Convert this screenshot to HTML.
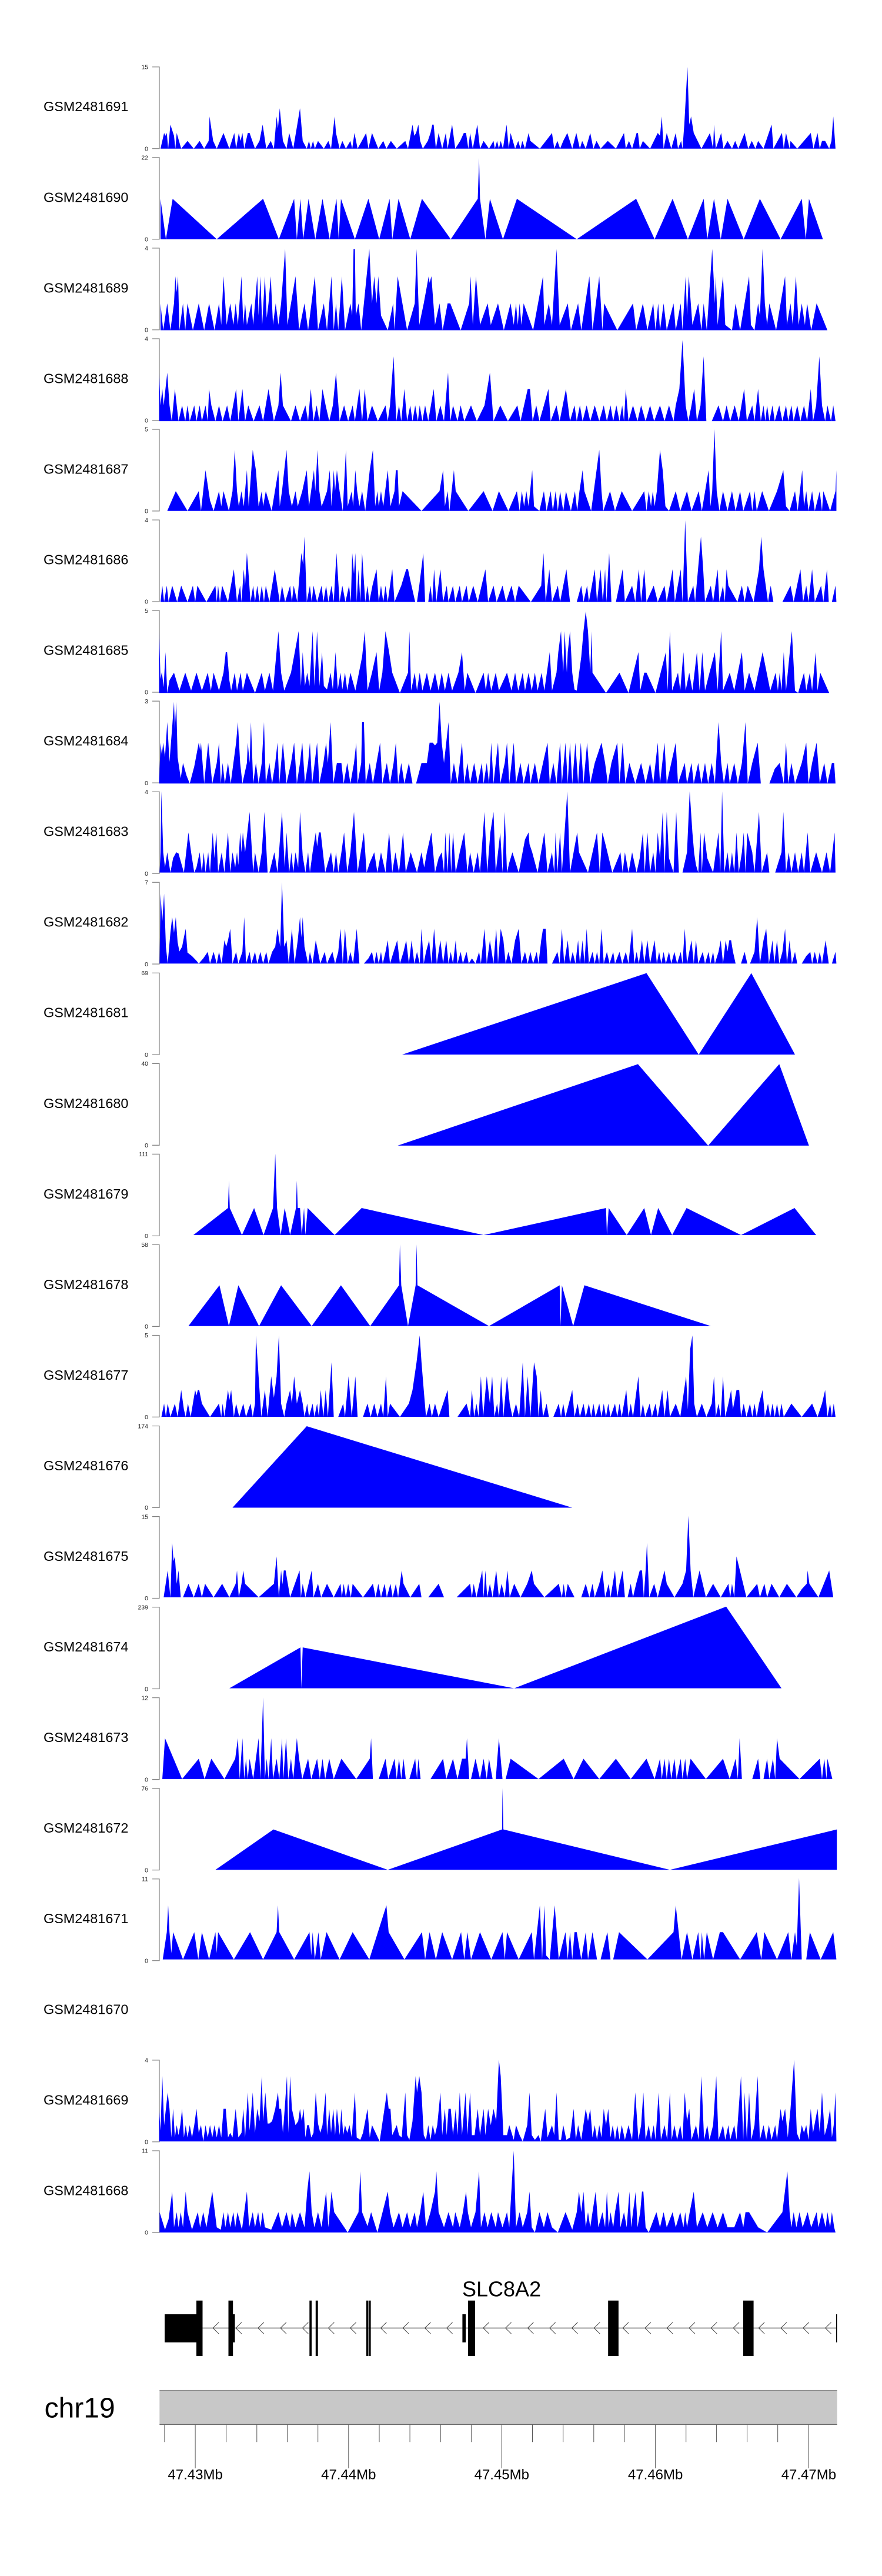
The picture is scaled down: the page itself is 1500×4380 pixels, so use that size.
<!DOCTYPE html>
<html>
<head>
<meta charset="utf-8">
<style>
html,body{margin:0;padding:0;background:#fff;}
svg{display:block;}
text{font-family:"Liberation Sans",Arial,sans-serif;}
.lab{font-size:23.4px;fill:#000;}
.tk{font-size:10.5px;fill:#222;text-anchor:end;}
.ax{stroke:#808080;stroke-width:1.2;fill:none;}
.d path{fill:#0000ff;stroke:none;}
.chev{stroke:#444;stroke-width:1;fill:none;}
</style>
</head>
<body>
<svg width="1500" height="4380" viewBox="0 0 1500 4380" xmlns="http://www.w3.org/2000/svg">
<rect x="0" y="0" width="1500" height="4380" fill="#fff"/>

<!-- Sample labels -->
<text class="lab" x="74" y="189.2">GSM2481691</text>
<text class="lab" x="74" y="343.25">GSM2481690</text>
<text class="lab" x="74" y="497.3">GSM2481689</text>
<text class="lab" x="74" y="651.35">GSM2481688</text>
<text class="lab" x="74" y="805.4">GSM2481687</text>
<text class="lab" x="74" y="959.45">GSM2481686</text>
<text class="lab" x="74" y="1113.5">GSM2481685</text>
<text class="lab" x="74" y="1267.55">GSM2481684</text>
<text class="lab" x="74" y="1421.6">GSM2481683</text>
<text class="lab" x="74" y="1575.65">GSM2481682</text>
<text class="lab" x="74" y="1729.7">GSM2481681</text>
<text class="lab" x="74" y="1883.75">GSM2481680</text>
<text class="lab" x="74" y="2037.8">GSM2481679</text>
<text class="lab" x="74" y="2191.85">GSM2481678</text>
<text class="lab" x="74" y="2345.9">GSM2481677</text>
<text class="lab" x="74" y="2499.95">GSM2481676</text>
<text class="lab" x="74" y="2654.0">GSM2481675</text>
<text class="lab" x="74" y="2808.05">GSM2481674</text>
<text class="lab" x="74" y="2962.1">GSM2481673</text>
<text class="lab" x="74" y="3116.15">GSM2481672</text>
<text class="lab" x="74" y="3270.2">GSM2481671</text>
<text class="lab" x="74" y="3424.25">GSM2481670</text>
<text class="lab" x="74" y="3578.3">GSM2481669</text>
<text class="lab" x="74" y="3732.35">GSM2481668</text>

<!-- Axes -->
<path class="ax" d="M259,113.8H271V252.7H259"/>
<path class="ax" d="M259,267.85H271V406.75H259"/>
<path class="ax" d="M259,421.9H271V560.8H259"/>
<path class="ax" d="M259,575.95H271V714.85H259"/>
<path class="ax" d="M259,730H271V868.9H259"/>
<path class="ax" d="M259,884.05H271V1022.95H259"/>
<path class="ax" d="M259,1038.1H271V1177H259"/>
<path class="ax" d="M259,1192.15H271V1331.05H259"/>
<path class="ax" d="M259,1346.2H271V1485.1H259"/>
<path class="ax" d="M259,1500.25H271V1639.15H259"/>
<path class="ax" d="M259,1654.3H271V1793.2H259"/>
<path class="ax" d="M259,1808.35H271V1947.25H259"/>
<path class="ax" d="M259,1962.4H271V2101.3H259"/>
<path class="ax" d="M259,2116.45H271V2255.35H259"/>
<path class="ax" d="M259,2270.5H271V2409.4H259"/>
<path class="ax" d="M259,2424.55H271V2563.45H259"/>
<path class="ax" d="M259,2578.6H271V2717.5H259"/>
<path class="ax" d="M259,2732.65H271V2871.55H259"/>
<path class="ax" d="M259,2886.7H271V3025.6H259"/>
<path class="ax" d="M259,3040.75H271V3179.65H259"/>
<path class="ax" d="M259,3194.8H271V3333.7H259"/>
<path class="ax" d="M259,3502.9H271V3641.8H259"/>
<path class="ax" d="M259,3656.95H271V3795.85H259"/>

<!-- Tick labels -->
<text class="tk" x="252" y="117.5">15</text><text class="tk" x="252" y="256.4">0</text>
<text class="tk" x="252" y="271.55">22</text><text class="tk" x="252" y="410.45">0</text>
<text class="tk" x="252" y="425.6">4</text><text class="tk" x="252" y="564.5">0</text>
<text class="tk" x="252" y="579.65">4</text><text class="tk" x="252" y="718.55">0</text>
<text class="tk" x="252" y="733.7">5</text><text class="tk" x="252" y="872.6">0</text>
<text class="tk" x="252" y="887.75">4</text><text class="tk" x="252" y="1026.65">0</text>
<text class="tk" x="252" y="1041.8">5</text><text class="tk" x="252" y="1180.7">0</text>
<text class="tk" x="252" y="1195.85">3</text><text class="tk" x="252" y="1334.75">0</text>
<text class="tk" x="252" y="1349.9">4</text><text class="tk" x="252" y="1488.8">0</text>
<text class="tk" x="252" y="1503.95">7</text><text class="tk" x="252" y="1642.85">0</text>
<text class="tk" x="252" y="1658.0">69</text><text class="tk" x="252" y="1796.9">0</text>
<text class="tk" x="252" y="1812.05">40</text><text class="tk" x="252" y="1950.95">0</text>
<text class="tk" x="252" y="1966.1">111</text><text class="tk" x="252" y="2105.0">0</text>
<text class="tk" x="252" y="2120.15">58</text><text class="tk" x="252" y="2259.05">0</text>
<text class="tk" x="252" y="2274.2">5</text><text class="tk" x="252" y="2413.1">0</text>
<text class="tk" x="252" y="2428.25">174</text><text class="tk" x="252" y="2567.15">0</text>
<text class="tk" x="252" y="2582.3">15</text><text class="tk" x="252" y="2721.2">0</text>
<text class="tk" x="252" y="2736.35">239</text><text class="tk" x="252" y="2875.25">0</text>
<text class="tk" x="252" y="2890.4">12</text><text class="tk" x="252" y="3029.3">0</text>
<text class="tk" x="252" y="3044.45">76</text><text class="tk" x="252" y="3183.35">0</text>
<text class="tk" x="252" y="3198.5">11</text><text class="tk" x="252" y="3337.4">0</text>
<text class="tk" x="252" y="3506.6">4</text><text class="tk" x="252" y="3645.5">0</text>
<text class="tk" x="252" y="3660.65">11</text><text class="tk" x="252" y="3799.55">0</text>

<!-- Data group 1 -->
<g class="d" transform="translate(250,100) scale(0.76531,0.39677)">
<path d="M30,385 38,318 41,330 44,318 47,385 52,282 60,330 63,385 66,318 76,385 90,352 104,385 117,352 127,385 137,352 139,247 147,352 155,385 170,318 183,385 194,318 198,385 204,318 208,352 212,318 216,385 224,318 228,318 240,385 250,352 257,282 265,385 275,352 282,385 288,247 291,298 295,212 302,352 310,385 316,318 325,385 340,212 346,352 355,385 360,352 364,385 369,352 373,385 380,352 393,385 403,352 409,385 417,247 420,318 428,385 434,352 442,385 452,352 456,385 461,318 468,385 487,318 492,385 500,318 514,385 525,352 532,385 542,352 555,385 574,352 580,385 590,282 594,330 598,318 603,282 607,352 613,385 624,352 630,318 634,282 637,282 642,385 648,318 656,385 664,318 668,385 678,282 685,385 696,352 704,318 709,318 714,385 718,318 724,385 734,282 740,385 748,352 760,385 770,352 773,385 778,352 782,385 786,352 791,385 799,282 804,385 808,318 818,385 825,352 830,385 834,352 840,385 848,318 852,352 873,385 900,318 905,385 912,352 918,385 925,352 934,318 945,385 954,318 962,385 967,352 975,385 985,318 992,385 999,352 1008,385 1024,352 1042,385 1060,318 1064,385 1071,352 1078,385 1088,318 1091,318 1095,385 1102,352 1118,385 1135,318 1140,330 1144,247 1148,385 1155,318 1165,385 1175,318 1180,385 1187,352 1190,385 1194,282 1201,35 1205,282 1209,247 1215,318 1232,385 1251,318 1258,385 1260,282 1264,385 1276,318 1281,385 1290,352 1300,385 1307,352 1314,385 1328,318 1336,385 1344,352 1352,385 1358,352 1370,385 1388,282 1392,385 1411,318 1415,385 1420,318 1428,385 1430,352 1445,385 1475,318 1481,385 1490,318 1495,385 1500,352 1507,352 1516,385 1521,352 1525,247 1530,385Z"/>
<path d="M30,773 30,600 42,773 57,600 155,773 258,600 293,773 327,600 333,773 341,600 347,773 359,600 374,773 390,600 406,773 421,600 426,773 431,600 462,773 492,600 516,773 539,600 545,773 559,600 585,773 611,600 675,773 735,600 738,425 740,600 752,773 762,600 791,773 822,600 955,773 1087,600 1128,773 1168,600 1202,773 1237,600 1245,773 1260,600 1275,773 1290,600 1326,773 1362,600 1408,773 1455,600 1464,773 1471,600 1502,773Z"/>
<path d="M30,1163 30,1048 36,1163 45,1048 52,1163 60,1048 63,932 66,1000 69,932 72,1163 80,1048 85,1163 90,1048 102,1163 115,1048 127,1163 138,1048 150,1163 160,1048 165,1140 170,932 177,1140 185,1048 192,1140 197,1048 202,1140 210,932 214,1140 218,1048 222,1140 232,1048 236,1140 245,932 248,1100 252,932 256,1140 262,932 266,1110 270,1048 275,932 280,1140 286,1048 292,1140 298,1048 307,815 312,1140 320,1048 330,932 338,1163 350,1048 358,1163 373,932 380,1163 393,1048 400,1163 410,932 415,1163 420,1048 425,1163 433,932 440,1163 452,1048 456,1100 459,815 462,815 464,1100 470,1048 476,1163 488,932 494,815 500,1048 505,932 510,1048 514,932 520,1100 535,1163 547,1048 550,1163 557,932 578,1163 595,1048 599,815 605,1140 615,1048 626,932 628,960 632,932 640,1140 650,1048 657,1163 668,1048 674,1048 697,1163 716,1048 719,932 724,1140 731,932 740,1140 757,1048 764,1140 780,1048 793,1163 808,1048 815,1140 820,1048 824,1140 828,1048 832,1140 837,1048 858,1163 880,932 883,1140 893,1048 900,1140 910,815 917,1140 935,1048 942,1163 958,1048 965,1163 983,932 990,1163 1005,932 1012,1163 1016,1048 1045,1163 1080,1048 1087,1163 1102,1048 1112,1163 1125,1048 1130,1163 1136,1048 1140,1163 1148,1048 1155,1163 1170,1048 1175,1163 1186,1048 1190,1163 1197,932 1200,1100 1204,932 1212,1140 1225,1048 1232,1163 1237,1048 1244,1163 1256,815 1262,1048 1264,932 1268,1140 1280,932 1285,1140 1300,1163 1308,1048 1318,1163 1338,932 1342,1140 1350,1163 1358,1048 1362,1100 1368,815 1373,1048 1378,1140 1383,1048 1398,1163 1418,932 1422,1140 1430,1048 1435,1140 1442,932 1448,1140 1455,1048 1462,1140 1467,1048 1476,1163 1488,1048 1512,1163Z"/>
<path d="M27,1553 27,1345 30,1485 34,1415 37,1485 41,1415 45,1345 50,1485 55,1553 62,1415 70,1553 78,1485 85,1553 90,1485 95,1553 105,1485 110,1553 117,1485 122,1553 130,1485 135,1553 138,1415 143,1485 152,1553 160,1485 168,1553 178,1485 185,1553 198,1415 203,1553 212,1415 218,1553 225,1485 237,1553 250,1485 258,1553 270,1415 282,1553 292,1485 297,1345 302,1485 320,1553 330,1485 340,1553 352,1485 358,1553 364,1415 370,1553 377,1485 383,1553 390,1415 397,1485 405,1553 413,1485 420,1345 428,1553 438,1485 447,1553 457,1485 462,1553 472,1415 478,1553 484,1415 490,1553 500,1485 513,1553 530,1485 535,1553 540,1485 548,1275 554,1553 560,1485 565,1553 572,1415 578,1553 585,1485 590,1553 596,1485 602,1553 606,1485 612,1553 618,1485 625,1553 637,1415 643,1553 652,1485 660,1553 669,1345 674,1553 680,1485 690,1553 697,1485 705,1553 720,1485 733,1553 750,1485 762,1345 770,1553 785,1485 802,1553 823,1485 830,1553 846,1415 851,1415 857,1553 865,1485 872,1553 882,1485 892,1415 897,1553 910,1485 917,1553 931,1415 940,1553 950,1485 955,1553 962,1485 968,1553 977,1485 985,1553 995,1485 1005,1553 1015,1485 1022,1553 1030,1485 1036,1553 1043,1485 1050,1553 1056,1485 1060,1553 1064,1415 1070,1553 1080,1485 1090,1553 1098,1485 1108,1553 1118,1485 1127,1553 1140,1485 1150,1553 1160,1485 1170,1553 1175,1485 1183,1415 1190,1205 1197,1485 1203,1553 1210,1485 1216,1415 1222,1553 1230,1485 1237,1275 1243,1553 1255,1553 1270,1485 1280,1553 1288,1485 1296,1553 1306,1485 1315,1553 1327,1415 1333,1553 1345,1485 1350,1553 1358,1415 1364,1553 1370,1485 1374,1553 1378,1485 1383,1553 1390,1485 1395,1553 1405,1485 1412,1553 1420,1485 1425,1553 1432,1485 1437,1553 1445,1485 1452,1553 1460,1485 1467,1553 1475,1415 1480,1553 1487,1485 1494,1275 1500,1485 1507,1553 1512,1485 1520,1553 1525,1485 1530,1553Z"/>
</g>

<!-- Data group 2 -->
<g class="d" transform="translate(250,720) scale(0.76531,0.39677)">
<path d="M45,375 64,290 90,375 115,290 120,375 130,200 140,330 148,375 160,290 165,355 170,290 182,375 190,290 195,113 200,290 204,355 210,290 215,355 222,200 226,355 235,113 242,200 248,355 255,290 258,355 264,290 277,375 292,200 295,355 300,290 305,200 310,113 315,290 322,355 330,290 335,355 345,290 355,200 360,355 371,200 374,290 379,113 383,290 388,355 393,330 400,290 406,200 410,355 415,200 418,290 422,200 428,290 435,375 442,113 446,355 455,290 458,355 463,200 467,290 472,355 478,290 485,375 495,200 502,113 507,355 512,290 515,355 520,290 525,355 535,200 541,355 550,290 553,200 557,200 560,355 568,290 610,375 650,290 658,200 662,355 668,290 672,375 682,200 686,290 714,375 748,290 768,375 782,290 803,375 822,290 828,375 833,290 838,355 843,290 848,355 856,200 860,355 872,375 882,290 888,375 897,290 902,375 908,290 913,375 918,290 925,375 931,290 942,375 951,290 956,375 961,290 968,200 972,290 987,375 1005,113 1010,290 1014,375 1029,290 1040,375 1055,290 1078,375 1105,290 1110,375 1115,290 1120,355 1124,290 1128,355 1133,290 1140,113 1146,200 1152,355 1160,375 1175,290 1185,375 1200,290 1210,375 1226,290 1233,375 1248,200 1252,355 1256,290 1261,25 1266,290 1272,375 1280,290 1290,375 1300,290 1308,375 1318,290 1325,375 1340,290 1345,375 1350,290 1355,375 1367,290 1382,375 1400,290 1414,200 1420,355 1428,375 1440,290 1446,375 1456,200 1460,355 1465,290 1470,375 1478,290 1484,375 1495,290 1500,375 1503,290 1510,330 1518,375 1530,290 1532,200 1532,375Z"/>
<path d="M30,765 34,695 38,765 44,695 48,765 56,695 67,765 76,695 90,765 102,695 107,765 112,695 132,765 152,695 155,765 158,695 162,765 167,695 180,765 193,625 200,765 207,695 210,765 215,625 218,695 222,555 225,625 230,765 236,695 240,765 245,695 250,765 255,695 260,765 264,695 272,765 284,625 295,765 300,695 307,765 318,695 322,765 326,695 334,765 343,555 347,605 350,485 355,765 362,695 366,765 370,695 378,765 388,695 392,765 398,695 403,765 410,695 415,765 421,555 428,765 434,695 441,765 449,695 453,765 456,555 460,645 463,555 466,765 470,625 474,765 478,555 485,765 490,695 494,765 501,695 510,625 515,765 520,695 525,765 530,695 535,765 545,625 550,765 565,695 576,625 580,625 586,680 596,765 600,765 605,695 614,555 618,765 625,765 630,695 634,765 638,625 643,765 652,625 658,765 666,695 670,765 680,695 685,765 695,695 700,765 710,695 715,765 725,695 735,765 752,625 758,765 770,695 777,765 790,695 798,765 810,695 818,765 826,695 853,765 876,695 881,555 886,765 894,625 900,765 913,695 918,765 932,625 940,765 955,765 965,695 970,765 978,695 982,765 995,625 1000,765 1008,625 1013,765 1018,625 1021,765 1027,555 1032,765 1042,765 1057,625 1062,765 1078,695 1085,765 1093,625 1098,765 1105,625 1110,765 1126,695 1135,765 1150,695 1155,765 1168,625 1173,765 1186,625 1190,765 1196,415 1202,765 1214,695 1218,765 1231,485 1236,625 1240,765 1253,695 1258,765 1268,625 1272,765 1280,695 1284,765 1288,625 1292,695 1312,765 1322,695 1328,765 1335,695 1348,765 1360,625 1365,485 1370,625 1380,765 1386,695 1392,765 1412,765 1430,695 1437,765 1452,625 1458,765 1465,695 1470,765 1478,625 1484,765 1498,695 1503,765 1511,625 1515,765 1522,765 1530,695 1532,765Z"/>
<path d="M27,1155 27,890 30,1095 33,1065 37,1130 41,980 45,1155 50,1100 60,1068 72,1145 85,1068 98,1145 110,1068 122,1145 135,1068 142,1145 148,1068 160,1145 170,1068 175,980 178,980 183,1100 187,1145 195,1068 200,1145 208,1068 213,1145 222,1068 240,1155 255,1068 262,1145 272,1068 280,1145 292,890 298,1068 305,1145 320,1068 337,890 342,1125 346,980 351,1125 356,1068 361,1125 368,890 372,1125 378,890 383,1125 389,980 393,1125 400,1140 408,1068 413,1140 419,980 424,1140 430,1068 434,1140 440,1068 445,1145 452,1068 463,1145 478,1000 484,890 490,1145 500,1068 510,980 516,1145 523,1068 530,890 538,980 545,1068 562,1155 580,1068 583,890 587,1145 595,1068 600,1145 606,1068 612,1145 622,1068 630,1145 640,1068 648,1145 655,1068 662,1145 670,1068 678,1145 692,1068 700,980 706,1145 712,1068 730,1155 748,1068 753,1145 758,1068 765,1145 775,1068 782,1145 800,1068 810,1145 818,1068 825,1145 835,1068 840,1145 848,1068 855,1145 862,1068 868,1145 877,1068 883,1145 895,980 900,1145 910,1068 914,980 920,890 925,1068 928,890 933,1068 935,980 940,890 945,1068 950,1140 955,1145 965,1000 970,890 975,805 980,890 985,1068 988,890 990,1068 1020,1155 1050,1068 1070,1155 1092,980 1096,1145 1105,1068 1110,1068 1130,1155 1153,980 1157,1145 1162,890 1167,1145 1180,1068 1185,1145 1192,980 1197,1145 1205,1068 1212,1145 1222,980 1228,1145 1234,980 1240,1145 1250,1068 1262,980 1268,1145 1276,890 1280,1145 1295,1068 1305,1145 1322,980 1328,1145 1338,1068 1350,1145 1368,980 1385,1145 1397,1068 1402,1145 1406,1068 1410,1145 1415,980 1420,1145 1433,890 1440,1145 1447,1155 1460,1068 1465,1145 1473,1068 1478,1145 1486,980 1490,1145 1496,1068 1516,1155Z"/>
<path d="M27,1543 30,1368 33,1420 36,1368 40,1430 45,1280 50,1450 56,1300 60,1193 62,1310 65,1193 68,1430 75,1520 80,1455 88,1510 95,1543 105,1470 115,1368 118,1400 120,1368 127,1543 136,1368 145,1543 155,1455 160,1368 164,1543 168,1455 173,1543 180,1455 186,1543 192,1455 198,1368 202,1280 207,1455 212,1543 222,1455 224,1368 228,1455 231,1280 236,1543 242,1455 248,1543 255,1455 260,1280 264,1543 272,1455 278,1543 285,1455 290,1368 294,1543 302,1368 310,1543 320,1455 327,1368 333,1543 340,1455 345,1368 351,1543 358,1455 362,1368 367,1543 378,1368 383,1543 392,1455 398,1368 402,1455 408,1280 414,1543 422,1455 432,1455 437,1543 445,1455 452,1543 460,1455 465,1368 468,1543 476,1455 478,1280 482,1280 486,1543 495,1455 502,1543 510,1455 518,1368 523,1543 533,1455 540,1543 548,1455 553,1368 558,1543 565,1455 572,1543 582,1455 590,1543 598,1543 610,1455 622,1455 628,1368 635,1368 640,1380 645,1368 650,1193 655,1368 660,1455 670,1280 675,1543 682,1455 690,1543 700,1368 705,1543 712,1455 718,1543 727,1455 735,1543 744,1455 748,1543 755,1455 760,1543 765,1368 770,1543 775,1455 780,1368 785,1543 795,1455 800,1368 805,1543 815,1368 820,1543 830,1455 837,1543 848,1455 852,1543 862,1455 870,1543 880,1455 890,1368 895,1543 903,1455 910,1543 918,1368 922,1543 930,1368 935,1543 940,1368 945,1543 952,1368 958,1543 964,1368 970,1543 978,1368 985,1543 995,1455 1010,1368 1018,1455 1024,1543 1032,1455 1045,1368 1050,1543 1057,1368 1063,1543 1072,1455 1085,1543 1098,1455 1108,1543 1118,1455 1125,1543 1135,1368 1140,1543 1150,1368 1155,1543 1165,1455 1175,1368 1180,1543 1195,1455 1200,1543 1210,1455 1215,1543 1225,1455 1232,1543 1240,1455 1247,1543 1255,1455 1262,1543 1270,1280 1276,1455 1282,1543 1290,1455 1295,1543 1305,1455 1313,1543 1322,1455 1330,1280 1335,1543 1345,1455 1357,1368 1364,1543 1383,1543 1395,1480 1406,1455 1415,1543 1420,1368 1425,1543 1432,1455 1440,1543 1455,1455 1465,1368 1470,1543 1478,1455 1488,1368 1495,1543 1505,1455 1512,1543 1522,1455 1527,1455 1530,1543Z"/>
</g>

<!-- Data group 3 -->
<g class="d" transform="translate(250,1340) scale(0.76531,0.39677)">
<path d="M28,362 30,275 32,14 36,275 40,340 45,275 52,362 58,300 65,275 70,280 82,362 92,190 98,275 105,362 110,340 117,275 122,362 126,275 130,362 136,275 140,362 146,190 150,300 154,190 158,362 166,275 172,362 180,190 185,362 190,275 196,340 200,275 203,330 207,190 210,275 213,190 218,275 228,102 236,362 240,275 248,362 255,275 261,102 268,362 272,362 283,275 290,362 300,102 306,340 310,190 316,362 321,275 325,362 330,275 336,340 340,102 346,290 352,362 358,275 362,362 368,275 375,190 378,250 382,190 386,190 396,362 402,320 409,275 415,362 420,275 425,362 432,275 438,190 445,362 452,275 460,102 468,362 475,275 482,190 488,362 495,320 505,275 512,362 520,275 530,362 538,190 545,362 552,275 560,362 569,190 575,362 586,275 600,362 610,275 616,340 622,275 632,190 640,362 648,300 655,275 660,362 663,190 668,362 672,190 676,362 680,190 686,362 695,275 705,190 712,362 718,275 726,362 735,275 740,362 750,102 756,362 763,190 770,102 775,362 785,190 790,362 795,102 800,362 805,320 812,275 826,362 840,220 848,190 850,240 856,275 868,362 883,190 890,362 900,275 905,362 908,190 912,362 918,190 922,362 934,14 940,362 948,275 956,190 960,275 980,362 1000,190 1006,362 1012,190 1020,250 1034,362 1052,275 1057,362 1062,275 1070,362 1078,275 1088,362 1095,300 1102,190 1106,362 1112,190 1118,362 1125,275 1130,362 1135,190 1140,300 1146,102 1150,362 1155,102 1160,300 1170,362 1176,102 1182,362 1190,362 1200,275 1206,14 1212,190 1216,280 1220,330 1225,362 1230,190 1233,362 1238,190 1245,300 1258,362 1270,190 1274,362 1278,14 1283,362 1290,275 1295,362 1300,275 1305,362 1310,190 1315,362 1322,275 1326,190 1330,362 1334,190 1345,275 1350,362 1360,102 1366,362 1378,275 1383,362 1396,362 1410,275 1414,102 1420,362 1426,275 1432,362 1440,275 1447,362 1455,275 1460,362 1468,190 1474,362 1487,275 1500,362 1510,275 1518,362 1528,190 1530,362Z"/>
<path d="M28,752 30,453 34,570 38,453 42,680 46,752 52,620 56,553 60,620 64,553 68,660 72,700 78,680 82,640 86,603 90,705 100,720 110,740 115,752 125,730 135,702 140,752 148,702 155,752 160,702 166,752 172,652 176,680 180,652 185,603 190,752 198,702 203,752 212,702 216,553 220,752 228,702 232,752 240,702 245,752 252,702 258,752 265,702 270,752 278,702 285,680 290,603 296,680 300,403 305,680 310,652 315,752 322,603 328,752 335,652 340,553 343,640 346,553 350,680 358,752 362,702 368,752 375,652 380,702 385,752 395,702 400,752 405,730 412,702 418,752 425,702 430,603 435,752 440,603 446,752 452,702 458,752 466,603 472,752 482,752 492,730 500,702 505,752 510,702 515,752 520,702 524,752 530,702 535,652 540,752 548,702 556,652 562,752 570,702 576,652 582,752 588,652 594,752 600,702 606,752 610,603 615,752 620,702 627,652 632,752 638,603 644,752 652,652 658,752 665,652 670,752 675,702 680,752 686,652 690,752 697,702 702,752 710,702 715,752 722,730 730,752 738,702 742,752 750,603 755,752 762,652 766,702 770,752 776,603 780,752 786,603 792,652 797,752 803,702 810,752 818,652 826,603 832,752 840,702 846,752 852,702 858,752 866,702 870,752 876,652 880,603 886,603 890,752 900,752 912,702 917,752 922,603 927,752 935,652 940,752 946,702 952,752 958,652 962,752 968,652 972,752 977,603 982,752 990,702 995,752 1000,702 1005,752 1010,603 1015,752 1022,702 1028,752 1036,702 1040,752 1050,702 1056,752 1064,702 1070,752 1078,603 1083,752 1088,702 1093,752 1100,652 1105,752 1112,652 1118,752 1128,652 1133,752 1138,702 1143,752 1148,702 1153,752 1160,702 1165,752 1172,702 1178,752 1186,702 1190,752 1195,603 1200,752 1205,702 1210,652 1215,752 1220,652 1225,752 1235,702 1240,752 1248,702 1252,752 1258,702 1262,752 1270,702 1275,652 1280,752 1286,652 1290,700 1294,652 1298,652 1302,700 1308,752 1320,752 1328,702 1334,752 1340,752 1350,702 1356,553 1362,752 1370,652 1376,603 1382,752 1390,652 1394,752 1400,652 1405,752 1412,702 1418,603 1422,752 1428,652 1433,752 1440,702 1445,752 1455,752 1465,720 1474,702 1478,752 1484,702 1490,752 1495,702 1500,752 1508,652 1515,752 1522,752 1530,702 1532,752Z"/>
<path d="M567,1142 1110,793 1226,1142 1343,793 1440,1142Z"/>
<path d="M557,1532 1091,1183 1247,1532 1405,1183 1471,1532Z"/>
</g>

<!-- Data group 4 -->
<g class="d" transform="translate(250,1960) scale(0.76531,0.39677)">
<path d="M103,353 180,237 182,120 184,237 211,353 238,237 259,353 280,237 285,4 289,237 297,353 306,237 318,353 331,237 333,120 335,237 340,237 344,353 349,237 352,353 357,237 417,353 477,237 748,353 1020,237 1022,353 1026,237 1066,353 1105,237 1120,353 1136,237 1167,353 1199,237 1320,353 1439,237 1487,353Z"/>
<path d="M92,743 161,568 182,743 203,568 249,743 298,568 366,743 431,568 496,743 560,568 562,393 565,568 580,743 597,568 599,393 601,568 760,743 917,568 919,743 922,568 947,743 972,568 1253,743Z"/>
<path d="M32,1132 38,1075 42,1132 46,1075 52,1132 62,1075 68,1132 76,1017 82,1100 86,1132 91,1075 97,1132 107,1017 110,1040 113,1017 116,1017 122,1075 140,1132 160,1075 165,1132 168,1075 172,1132 180,1017 183,1060 187,1017 193,1132 198,1075 205,1132 214,1075 220,1132 230,1075 235,1132 240,1075 242,783 248,958 254,1132 262,1017 268,1132 276,958 282,1050 288,958 293,783 298,1075 305,1132 310,1075 318,1017 322,1075 327,958 333,1075 340,1017 346,1075 350,1132 356,1075 360,1132 368,1075 372,1132 378,1075 382,1132 386,1017 392,1132 397,1017 402,1132 410,898 415,1132 425,1132 436,1075 440,1132 448,958 455,1132 463,958 468,1132 480,1132 490,1075 497,1132 505,1075 512,1132 520,1075 525,1132 531,958 535,1132 540,1075 562,1132 582,1075 590,1017 599,898 606,783 610,898 615,1017 620,1132 628,1075 633,1132 640,1075 648,1132 658,1075 668,1017 672,1132 690,1132 710,1075 718,1132 722,1017 727,1132 732,1075 737,1132 742,958 747,1132 755,958 762,1075 767,958 772,1132 778,1075 782,1132 787,958 792,1132 800,958 806,1075 812,1132 820,1075 827,1132 835,898 840,1132 846,958 852,1132 860,898 866,958 870,1132 875,1017 880,1132 888,1075 893,1132 903,1132 915,1075 920,1132 925,1075 930,1132 945,1017 950,1132 957,1075 962,1132 970,1075 975,1132 982,1075 987,1132 992,1075 997,1132 1005,1075 1010,1132 1015,1075 1020,1132 1025,1075 1030,1132 1040,1075 1045,1132 1050,1075 1055,1132 1065,1017 1070,1132 1075,1075 1080,1132 1092,958 1097,1132 1102,1075 1107,1132 1117,1075 1122,1132 1130,1075 1135,1132 1145,1017 1150,1132 1157,1017 1162,1132 1175,1075 1185,1132 1198,958 1202,1100 1207,842 1212,783 1216,1075 1222,1132 1233,1075 1243,1132 1255,1075 1260,958 1264,1132 1270,1075 1275,1132 1280,958 1285,1132 1292,1075 1298,1017 1302,1100 1310,1017 1316,1017 1320,1132 1326,1075 1332,1132 1340,1075 1345,1132 1350,1075 1355,1132 1360,1075 1368,1017 1373,1132 1380,1075 1385,1132 1390,1075 1395,1132 1400,1075 1405,1132 1410,1075 1415,1132 1432,1075 1455,1132 1478,1075 1490,1132 1500,1075 1507,1017 1512,1132 1518,1075 1522,1132 1526,1075 1530,1132Z"/>
<path d="M190,1521 355,1172 945,1521Z"/>
</g>

<!-- Data group 5 -->
<g class="d" transform="translate(250,2575) scale(0.76531,0.39677)">
<path d="M37,355 46,240 52,355 56,122 59,200 62,180 66,297 70,240 75,355 80,355 92,297 104,355 115,297 122,355 129,297 148,355 167,297 183,355 197,297 200,240 204,355 210,297 214,240 218,297 248,355 282,297 288,180 293,355 298,240 301,300 304,240 308,240 318,355 339,240 342,355 346,297 352,355 366,240 370,355 380,297 387,355 400,297 415,355 430,297 433,355 437,297 442,355 447,297 453,355 457,297 480,355 502,297 508,355 514,297 520,355 528,297 533,355 541,297 546,355 553,297 558,355 566,240 570,297 585,355 605,297 610,355 625,355 648,297 660,355 688,355 718,297 722,355 726,297 732,355 745,240 748,355 752,240 756,355 762,297 768,355 776,240 782,355 788,297 795,355 801,240 806,355 816,297 830,355 845,297 855,240 860,297 883,355 915,297 922,355 926,297 930,355 935,297 950,355 965,355 975,297 983,355 990,297 995,355 1005,297 1012,240 1018,355 1026,297 1030,355 1040,240 1045,355 1050,297 1057,240 1062,355 1068,355 1075,297 1080,355 1087,297 1095,240 1100,240 1104,355 1108,240 1111,122 1116,355 1127,297 1135,355 1150,240 1155,297 1172,355 1190,297 1198,240 1203,6 1208,240 1214,355 1228,240 1242,355 1258,297 1275,355 1292,297 1296,355 1300,297 1305,355 1310,180 1332,355 1356,297 1362,355 1372,297 1378,355 1388,297 1405,355 1422,297 1443,355 1455,320 1466,297 1468,240 1472,297 1492,355 1516,240 1525,355Z"/>
<path d="M183,745 341,570 343,745 346,570 816,745 1287,395 1410,745Z"/>
<path d="M34,1134 40,959 78,1134 115,1047 128,1134 143,1047 172,1134 196,1047 202,959 206,1134 212,959 216,1134 220,1047 224,1134 228,1047 236,1134 248,959 252,1134 258,784 262,1134 266,1047 270,1134 276,959 280,1134 288,1047 294,1134 300,959 303,1134 309,959 314,1134 320,1047 325,1134 333,959 338,1047 345,1134 358,1047 365,1134 378,1047 384,1134 390,1047 396,1134 405,1047 415,1134 432,1047 465,1134 495,1047 498,959 502,1134 515,1134 530,1047 536,1134 550,1047 555,1134 560,1047 565,1134 570,1047 575,1134 583,1134 596,1047 600,1134 603,1047 608,1134 630,1134 658,1047 665,1134 680,1047 690,1134 700,1047 708,1047 711,959 716,1134 720,1134 730,1047 740,1134 748,1047 755,1134 760,1047 768,1134 775,1134 782,959 786,1047 790,1134 797,1134 808,1047 870,1134 926,1047 948,1134 970,1047 1005,1134 1042,1047 1075,1134 1110,1047 1128,1134 1140,1047 1144,1134 1150,1047 1155,1134 1160,1047 1165,1134 1172,1047 1177,1134 1186,1047 1190,1134 1196,1047 1200,1134 1208,1047 1242,1134 1280,1047 1295,1134 1308,1047 1313,1134 1317,959 1322,1134 1335,1134 1345,1134 1358,1047 1363,1134 1370,1134 1378,1047 1383,1134 1391,1047 1396,1134 1400,959 1406,1047 1450,1134 1495,1047 1500,1134 1505,1047 1510,1134 1512,1047 1523,1134Z"/>
<path d="M152,1523 281,1350 535,1523 789,1350 790,1173 792,1350 1162,1523 1533,1350 1533,1523Z"/>
</g>

<!-- Data group 6 -->
<g class="d" transform="translate(250,3190) scale(0.76531,0.39677)">
<path d="M35,357 44,240 47,125 50,240 54,330 58,240 80,357 105,240 114,357 122,240 138,357 152,240 155,330 158,240 193,357 229,240 258,357 288,240 291,125 294,240 327,357 361,240 365,340 368,240 373,357 381,240 386,357 399,240 428,357 457,240 494,357 532,125 537,240 572,357 611,240 618,357 628,240 642,357 656,240 678,357 698,240 705,357 712,240 720,357 740,240 765,357 790,240 795,357 800,240 826,357 855,240 860,357 873,125 878,357 883,125 887,340 895,357 906,125 915,357 922,300 930,240 935,357 940,240 945,357 950,240 955,240 965,357 975,240 980,357 990,240 1000,357 1008,357 1023,240 1030,357 1036,357 1049,240 1112,357 1170,240 1175,125 1188,357 1200,240 1212,357 1225,240 1230,357 1233,240 1238,357 1244,240 1258,357 1273,240 1280,240 1318,357 1355,240 1365,357 1372,240 1400,357 1425,240 1432,357 1440,240 1444,300 1449,8 1455,357 1465,357 1473,240 1497,357 1525,240 1532,357Z"/>
<path d="M27,1137 27,997 30,1090 34,857 38,1067 42,997 46,927 50,997 54,1120 58,997 62,1120 66,1067 70,1110 74,1067 78,997 82,1120 86,1067 90,1120 95,1067 100,1120 105,1067 110,997 115,1100 120,1067 125,1137 130,1067 135,1120 140,1067 145,1120 150,1067 155,1120 160,1067 165,1120 170,997 175,997 180,1120 185,1100 190,1120 197,997 203,1120 210,1100 214,997 218,1120 224,927 228,1090 235,927 240,1100 245,997 250,1050 255,857 258,1050 263,927 268,1060 272,1060 278,1050 285,997 291,927 294,997 298,997 302,1100 306,997 311,857 314,1100 318,857 322,997 330,1067 336,1050 340,997 344,1050 348,997 352,1120 356,1067 360,1067 365,1120 370,1100 375,927 380,1060 385,1100 390,1067 397,927 400,1110 405,997 409,1100 414,997 418,1110 422,997 428,1110 432,997 436,1110 440,1067 445,1100 450,1067 455,1120 462,927 466,1120 474,1130 480,1100 490,997 495,1120 500,1067 517,1137 533,927 537,997 541,997 545,1110 555,1067 560,1110 566,1120 574,927 578,1110 583,1130 590,1050 597,857 600,927 605,857 610,927 615,1110 620,1130 625,1067 630,1130 635,1067 640,1110 645,1067 652,927 656,1110 662,997 666,1110 670,997 675,997 680,1110 686,997 690,1110 695,927 700,1110 708,927 712,1110 718,927 722,1110 728,1110 735,997 740,1110 748,997 752,1110 758,997 764,1067 770,997 776,1050 782,787 786,857 792,1110 800,1110 805,1067 815,1130 820,1067 828,1110 835,1137 845,1067 850,927 855,1110 862,1130 870,1110 875,1137 885,997 890,1120 900,1067 905,1110 910,927 915,1130 920,1130 925,1067 932,1130 940,1120 948,997 953,1130 958,1067 965,1130 975,997 980,1050 985,997 990,1120 995,1067 1000,1130 1005,1067 1010,1120 1015,997 1020,1067 1025,997 1030,1120 1035,1067 1040,1130 1045,1067 1050,1130 1055,1067 1062,1130 1070,1067 1078,1130 1085,927 1092,1130 1098,1067 1103,927 1108,1130 1115,1067 1120,1130 1126,1067 1130,1130 1137,927 1142,1130 1150,1067 1156,1130 1162,927 1166,1130 1172,1067 1178,1130 1185,1067 1190,1130 1195,927 1200,1050 1205,997 1210,1130 1220,1067 1226,1130 1232,857 1238,1130 1245,1067 1250,1130 1258,1067 1265,857 1270,1130 1280,1067 1285,1130 1292,1067 1296,1130 1305,1067 1310,1130 1320,857 1325,1130 1328,927 1333,1130 1338,927 1343,1130 1350,1067 1357,857 1362,1130 1370,1067 1376,1130 1382,1067 1388,1130 1396,1067 1400,1130 1408,997 1412,1050 1418,997 1424,1120 1430,997 1438,787 1444,1100 1450,1130 1455,1067 1460,1100 1465,1067 1470,1130 1475,997 1480,1100 1490,997 1495,1100 1500,927 1506,1110 1512,1067 1518,997 1522,1120 1526,1067 1530,927 1532,1137Z"/>
<path d="M28,1527 28,1440 40,1515 48,1470 56,1352 60,1505 66,1440 70,1505 75,1440 80,1505 86,1352 90,1440 100,1515 113,1440 118,1505 125,1440 132,1505 145,1352 155,1505 164,1515 170,1440 174,1505 180,1440 185,1505 192,1440 196,1505 201,1440 211,1515 222,1352 227,1505 235,1440 240,1505 247,1440 252,1505 257,1440 262,1505 276,1515 292,1440 300,1505 310,1440 318,1505 322,1440 330,1505 340,1440 350,1505 356,1352 361,1265 366,1440 372,1505 380,1440 388,1505 398,1352 403,1505 410,1352 416,1440 446,1527 470,1440 474,1265 478,1440 490,1500 498,1440 512,1527 535,1352 540,1440 548,1505 560,1440 568,1505 578,1440 585,1505 595,1440 600,1505 607,1440 614,1352 620,1505 630,1440 640,1352 643,1265 648,1440 660,1505 670,1440 680,1505 685,1440 695,1505 702,1440 709,1352 713,1440 720,1505 730,1440 738,1265 742,1505 750,1440 757,1505 765,1440 775,1505 780,1440 790,1505 800,1440 805,1505 815,1177 820,1505 828,1440 835,1505 845,1440 850,1352 855,1505 862,1527 872,1440 882,1505 890,1440 900,1505 913,1527 930,1440 945,1515 955,1440 960,1352 965,1440 970,1352 975,1505 980,1440 985,1505 990,1440 997,1352 1003,1505 1012,1440 1018,1505 1022,1352 1026,1505 1030,1440 1036,1505 1040,1440 1048,1352 1052,1505 1060,1440 1066,1505 1072,1352 1076,1505 1080,1440 1086,1352 1090,1505 1096,1440 1100,1352 1103,1352 1108,1505 1115,1527 1132,1440 1140,1505 1148,1440 1155,1505 1168,1440 1175,1505 1185,1440 1192,1505 1196,1440 1200,1505 1206,1440 1215,1352 1222,1505 1235,1440 1245,1505 1257,1440 1268,1505 1280,1440 1290,1505 1305,1505 1318,1440 1325,1505 1330,1440 1338,1440 1358,1505 1378,1527 1412,1440 1423,1265 1428,1440 1432,1505 1437,1440 1443,1505 1450,1440 1457,1505 1468,1440 1476,1505 1488,1440 1492,1505 1500,1440 1508,1505 1512,1440 1518,1505 1522,1440 1527,1505 1530,1527Z"/>
</g>

<!-- Gene track -->
<text x="786" y="3904.7" style="font-size:36px;fill:#000;">SLC8A2</text>
<line x1="344.5" y1="3958.4" x2="1422.7" y2="3958.4" stroke="#333" stroke-width="1.2"/>
<path class="chev" d="M372.2,3948.6L362.2,3958.4L372.2,3968.2M411,3948.6L401,3958.4L411,3968.2M448.8,3948.6L438.8,3958.4L448.8,3968.2M487,3948.6L477,3958.4L487,3968.2M524.4,3948.6L514.4,3958.4L524.4,3968.2M568.4,3948.6L558.4,3958.4L568.4,3968.2M605.7,3948.6L595.7,3958.4L605.7,3968.2M657.4,3948.6L647.4,3958.4L657.4,3968.2M695.2,3948.6L685.2,3958.4L695.2,3968.2M732.5,3948.6L722.5,3958.4L732.5,3968.2M769.6,3948.6L759.6,3958.4L769.6,3968.2M831.8,3948.6L821.8,3958.4L831.8,3968.2M869.6,3948.6L859.6,3958.4L869.6,3968.2M907.4,3948.6L897.4,3958.4L907.4,3968.2M944.7,3948.6L934.7,3958.4L944.7,3968.2M982.5,3948.6L972.5,3958.4L982.5,3968.2M1020.3,3948.6L1010.3,3958.4L1020.3,3968.2M1069.1,3948.6L1059.1,3958.4L1069.1,3968.2M1106.9,3948.6L1096.9,3958.4L1106.9,3968.2M1144.2,3948.6L1134.2,3958.4L1144.2,3968.2M1182,3948.6L1172,3958.4L1182,3968.2M1219.3,3948.6L1209.3,3958.4L1219.3,3968.2M1257.1,3948.6L1247.1,3958.4L1257.1,3968.2M1300.2,3948.6L1290.2,3958.4L1300.2,3968.2M1338,3948.6L1328,3958.4L1338,3968.2M1375.8,3948.6L1365.8,3958.4L1375.8,3968.2M1413.6,3948.6L1403.6,3958.4L1413.6,3968.2"/>
<g fill="#000">
<rect x="280" y="3935" width="54.5" height="47.7"/>
<rect x="334" y="3911.7" width="10.5" height="94.3"/>
<rect x="388.5" y="3911.7" width="7.7" height="94.3"/>
<rect x="396" y="3935" width="3.5" height="47.7"/>
<rect x="526.3" y="3911.7" width="3.7" height="94.3"/>
<rect x="536.8" y="3911.7" width="3.9" height="94.3"/>
<rect x="623" y="3911.7" width="3.5" height="94.3"/>
<rect x="627.6" y="3911.7" width="3" height="94.3"/>
<rect x="786.4" y="3935" width="5.7" height="47.7"/>
<rect x="795.9" y="3911.7" width="12" height="94.3"/>
<rect x="1034.2" y="3911.7" width="17.7" height="94.3"/>
<rect x="1263.9" y="3911.7" width="17.7" height="94.3"/>
<rect x="1421.9" y="3935" width="1.6" height="47.7"/>
</g>

<!-- Chromosome / genome axis -->
<text x="75.6" y="4110.3" style="font-size:48px;fill:#000;">chr19</text>
<rect x="271.3" y="4064.5" width="1152.4" height="57.9" fill="#c8c8c8"/>
<line x1="271.3" y1="4064.5" x2="1423.7" y2="4064.5" stroke="#8a8a8a" stroke-width="1.3"/>
<line x1="271.3" y1="4122.4" x2="1423.7" y2="4122.4" stroke="#6a6a6a" stroke-width="1.3"/>
<path stroke="#555" stroke-width="1" fill="none" d="M279.9,4122.4V4152.3M332.1,4122.4V4196.7M384.7,4122.4V4152.3M436.8,4122.4V4152.3M488.5,4122.4V4152.3M540.7,4122.4V4152.3M592.8,4122.4V4196.7M645,4122.4V4152.3M697.1,4122.4V4152.3M749.3,4122.4V4152.3M801.7,4122.4V4152.3M853.3,4122.4V4196.7M905.5,4122.4V4152.3M957.7,4122.4V4152.3M1009.8,4122.4V4152.3M1062,4122.4V4152.3M1114.6,4122.4V4196.7M1166.7,4122.4V4152.3M1218.4,4122.4V4152.3M1270.6,4122.4V4152.3M1322.7,4122.4V4152.3M1375.4,4122.4V4196.7"/>
<g style="font-size:24px;fill:#000;" text-anchor="middle">
<text x="332.1" y="4215.4">47.43Mb</text>
<text x="592.8" y="4215.4">47.44Mb</text>
<text x="853.3" y="4215.4">47.45Mb</text>
<text x="1114.6" y="4215.4">47.46Mb</text>
<text x="1375.4" y="4215.4">47.47Mb</text>
</g>
</svg>
</body>
</html>
